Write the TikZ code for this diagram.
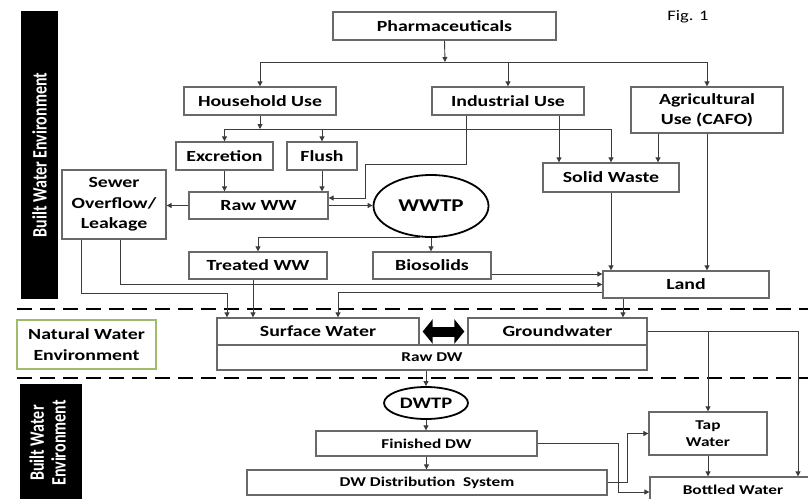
\documentclass[tikz,border=0pt]{standalone}
\usepackage{fontspec}
\setmainfont{Carlito}[FakeStretch=1.28]
\newfontfamily\rotfont{Carlito}
\usepackage{graphicx}
\usetikzlibrary{arrows.meta,shapes.geometric}
\definecolor{boxgray}{RGB}{105,105,105}
\definecolor{linegray}{RGB}{60,60,60}
\definecolor{envgreen}{RGB}{160,187,110}
\begin{document}
\begin{tikzpicture}[x=1pt,y=-1pt,
  box/.style={draw=boxgray, line width=1.3pt, fill=white, inner sep=0pt, align=center,
              font=\fontsize{15.5}{20.5}\selectfont\bfseries, text=black},
  sbox/.style={box, font=\fontsize{13.5}{17}\selectfont\bfseries},
  ell/.style={ellipse, draw=black, line width=1.8pt, fill=white, inner sep=0pt},
  ln/.style={draw=linegray, line width=0.9pt},
  arr/.style={ln, -{Triangle[length=5pt,width=5pt]}},
  dashline/.style={draw=black, line width=2.4pt, dash pattern=on 15pt off 8pt},
  bar/.style={fill=black, inner sep=0pt, text=white}]
\useasboundingbox (0,0) rectangle (808,498);
\clip (0,0) rectangle (808,498);

% environment labels
\node[bar, minimum width=37, minimum height=288] (bar1) at (39.5,155) {};
\node[rotate=90, text=white] (bar1t) at (bar1.center)
  {\scalebox{1}[1.28]{\rotfont\fontsize{16}{17}\selectfont\bfseries Built Water Environment}};
\node[bar, minimum width=62, minimum height=124] (bar2) at (51,446) {};
\node[rotate=90, text=white] (bar2t) at (50.5,443)
  {\scalebox{1}[1.28]{\rotfont\fontsize{16}{17}\selectfont\bfseries\begin{tabular}{@{}c@{}}Built Water\\Environment\end{tabular}}};
\node[box, draw=envgreen, line width=1.5pt, minimum width=139, minimum height=49] (nwe) at (86.5,344.5)
  {Natural Water\\Environment};
\node[font=\fontsize{14.5}{17}\selectfont] (fig) at (688,17) {Fig. 1};

% dashed separators
\draw[dashline] (17,309) -- (810,309);
\draw[dashline] (17,378) -- (810,378);

% nodes
\node[box, minimum width=223, minimum height=28] (ph) at (444.5,26) {Pharmaceuticals};
\node[box, minimum width=152, minimum height=28] (hh) at (260,101) {Household Use};
\node[box, minimum width=152, minimum height=28] (ind) at (508,101) {Industrial Use};
\node[box, minimum width=152, minimum height=46] (agr) at (707,110) {Agricultural\\Use (CAFO)};
\node[box, minimum width=97, minimum height=28] (exc) at (224.5,156) {Excretion};
\node[box, minimum width=70, minimum height=28] (flu) at (322,156) {Flush};
\node[box, minimum width=104, minimum height=69] (sew) at (114,204.5) {Sewer\\Overflow/\\Leakage};
\node[box, minimum width=139, minimum height=27] (raw) at (258.5,205.5) {Raw WW};
\node[box, minimum width=136, minimum height=29] (sol) at (611,177.5) {Solid Waste};
\node[ell, minimum width=115, minimum height=62, font=\fontsize{18}{20}\selectfont\bfseries] (wwtp) at (431,206) {WWTP};
\node[box, minimum width=138, minimum height=27] (trt) at (258,265.5) {Treated WW};
\node[box, minimum width=118, minimum height=27] (bio) at (432,265.5) {Biosolids};
\node[box, minimum width=166, minimum height=27] (land) at (686,284.5) {Land};
\node[sbox, minimum width=430, minimum height=25] (rdw) at (432,357.5) {Raw DW};
\node[box, minimum width=202, minimum height=27] (sw) at (318,331.5) {Surface Water};
\node[box, minimum width=179, minimum height=27] (gw) at (557.5,331.5) {Groundwater};
\node[ell, minimum width=84, minimum height=32, font=\fontsize{16}{18}\selectfont\bfseries] (dwtp) at (426,403) {DWTP};
\node[sbox, minimum width=221, minimum height=25] (fin) at (426.5,443.5) {Finished DW};
\node[sbox, minimum width=360, minimum height=25] (dist) at (427,482.5) {DW Distribution\ \ System};
\node[sbox, minimum width=118, minimum height=43] (tap) at (708,433.5) {Tap\\Water};
\node[sbox, minimum width=166, minimum height=26] (bot) at (733,490) {Bottled Water};

% pharmaceuticals distribution
\coordinate (j0) at (445,62);
\draw[arr] (ph.south) -- (j0);
\draw[ln] (j0 -| hh.north) -- (j0 -| agr.north);
\draw[arr] (j0 -| hh.north) -- (hh.north);
\draw[arr] (j0 -| ind.north) -- (ind.north);
\draw[arr] (j0 -| agr.north) -- (agr.north);

% household
\coordinate (j1) at (260,129);
\draw[arr] (hh.south) -- (j1);
\draw[ln] (j1 -| exc.north) -- (j1 -| sol.north);
\draw[arr] (j1 -| exc.north) -- (exc.north);
\draw[arr] (j1 -| flu.north) -- (flu.north);
\draw[arr] (j1 -| sol.north) -- (sol.north);

\draw[arr] (exc.south) -- (exc.south |- raw.north);
\draw[arr] (flu.south) -- (flu.south |- raw.north);

% industrial
\coordinate (k1) at (365,164);
\draw[arr] ([xshift=-42]ind.south) |- (k1) |- ([yshift=7.5]raw.east);
\draw[arr] ([xshift=51]ind.south) -- ([xshift=51]ind.south |- sol.north);

% agricultural
\draw[arr] ([xshift=-49]agr.south) -- ([xshift=-49]agr.south |- sol.north);
\draw[arr] (agr.south) -- (agr.south |- land.north);
\draw[arr] (sol.south) -- (sol.south |- land.north);

% raw WW
\draw[arr] (raw.west) -- (raw.west -| sew.east);
\draw[arr] (raw.east) -- (raw.east -| wwtp.west);

% WWTP
\draw[arr] (wwtp.250) -| (trt.north);
\draw[arr] (wwtp.south) -- (wwtp.south |- bio.north);
\draw[arr] ([yshift=-8.5]bio.east) -- ([yshift=-8.5]bio.east -| land.west);

% sewer overflow
\draw[arr] ([xshift=6]sew.south) |- (land.west);
\coordinate (k2) at (227,293);
\draw[arr] ([xshift=-33]sew.south) |- (k2) -- (k2 |- sw.north);

% to surface water / groundwater
\draw[arr] ([xshift=-5]trt.south) -- ([xshift=-5]trt.south |- sw.north);
\draw[arr] ([yshift=-7.5]land.west) -| ([xshift=20]sw.north);
\draw[arr] ([xshift=-63]land.south) -- ([xshift=-63]land.south |- gw.north);

% exchange
\draw[line width=10pt, shorten <=3pt, shorten >=3pt,
      {Triangle[length=10pt,width=24pt]}-{Triangle[length=10pt,width=24pt]}]
  (sw.east) -- (gw.west);

% drinking water
\draw[arr] (dwtp.north |- rdw.south) -- (dwtp.north);
\draw[arr] (dwtp.south) -- (dwtp.south |- fin.north);
\draw[arr] (fin.south) -- (fin.south |- dist.north);

\draw[arr] (gw.east) -| ([xshift=65]bot.north);
\draw[arr] (gw.east -| tap.north) -- (tap.north);
\draw[arr] (tap.south) -- (tap.south |- bot.north);
\draw[arr] (fin.east) -| ([xshift=-31,yshift=-2]bot.west) -- ([yshift=-2]bot.west);
\draw[arr] (dist.east) -| ([xshift=-21]tap.west) -- (tap.west);
\end{tikzpicture}
\end{document}
